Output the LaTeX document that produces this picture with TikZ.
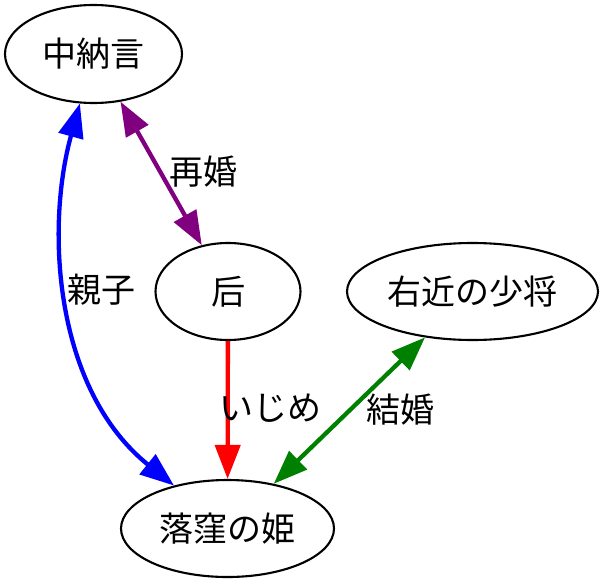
\documentclass[tikz,border=0pt]{standalone}
\usepackage{fontspec}
\newfontfamily\cjk{Noto Sans CJK JP}
\usetikzlibrary{shapes.geometric,arrows.meta}
\definecolor{gvpurple}{RGB}{128,0,128}
\definecolor{gvgreen}{RGB}{0,128,0}
\definecolor{gvblue}{RGB}{0,0,255}
\definecolor{gvred}{RGB}{255,0,0}
\begin{document}
\begin{tikzpicture}[x=1pt,y=-1pt,
  person/.style={draw=black,line width=2.1pt,ellipse,inner sep=0pt},
  lbl/.style={font=\cjk\fontsize{34}{40}\selectfont,inner sep=0pt},
  rel/.style={line width=4.3pt,arrows={-Triangle[length=34pt,width=25pt]}},
  birel/.style={line width=4.3pt,arrows={Triangle[length=34pt,width=25pt]-Triangle[length=34pt,width=25pt]}}]
\useasboundingbox (0,0) rectangle (607,583);
\node[person,minimum width=177pt,minimum height=98pt] (zn) at (93.5,54) {};
\node[lbl] at (zn) {中納言};
\node[person,minimum width=145pt,minimum height=97pt] (ki) at (228,291.5) {};
\node[lbl] at (ki) {后};
\node[person,minimum width=251pt,minimum height=97pt] (uk) at (472.5,291.5) {};
\node[lbl] at (uk) {右近の少将};
\node[person,minimum width=213pt,minimum height=97pt] (oc) at (227.5,528.5) {};
\node[lbl] at (oc) {落窪の姫};
\draw[birel,gvpurple] (zn) -- (ki);
\draw[birel,gvblue] (zn) .. controls (45,230) and (55,390) .. (oc);
\draw[rel,gvred] (ki) -- (oc);
\draw[birel,gvgreen] (uk) -- (oc);
\node[lbl] (l1) at (203,172) {再婚};
\node[lbl] (l2) at (101,290) {親子};
\node[lbl] (l3) at (270,408) {いじめ};
\node[lbl] (l4) at (400,410) {結婚};
\end{tikzpicture}
\end{document}
